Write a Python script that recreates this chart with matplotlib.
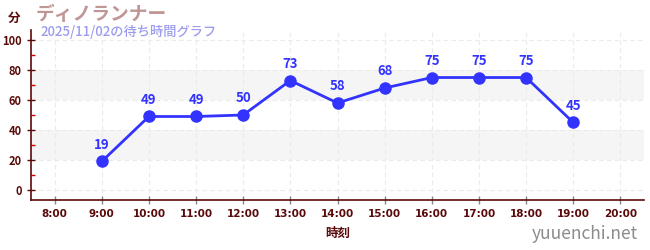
import matplotlib
matplotlib.use("Agg")
import matplotlib.pyplot as plt
from matplotlib.ticker import MultipleLocator

plt.rcParams['font.family'] = ['Noto Sans CJK JP', 'DejaVu Sans']

hours = [9, 10, 11, 12, 13, 14, 15, 16, 17, 18, 19]
waits = [19, 49, 49, 50, 73, 58, 68, 75, 75, 75, 45]
xticks = list(range(8, 21))
xticklabels = [f"{h}:00" for h in xticks]
yticks = [0, 20, 40, 60, 80, 100]

title = "ディノランナー"
subtitle = "2025/11/02の待ち時間グラフ"
ylabel = "分"
xlabel = "時刻"
watermark = "yuuenchi.net"

dark = "#5a0a0a"
line_c = "#3333ff"

fig = plt.figure(figsize=(6.5, 2.5), dpi=100)
ax = fig.add_axes([31/650, 50/250, (644-31)/650, (200-30)/250])
ax.set_xlim(7.5, 20.5)
ax.set_ylim(-6.7, 106.7)

for lo, hi in [(20, 40), (60, 80)]:
    ax.axhspan(lo, hi, color="#f5f5f5", zorder=0, lw=0)

ax.set_xticks(xticks)
ax.set_xticklabels(xticklabels)
ax.set_yticks(yticks)
ax.yaxis.set_minor_locator(MultipleLocator(10))
ax.grid(True, which="major", color="#ebebeb", linestyle=(0, (4, 3)), lw=0.8, zorder=0.5)

ax.plot(hours, waits, color=line_c, lw=2.0, marker="o", ms=8, zorder=3)
for h, w in zip(hours, waits):
    ax.annotate(str(w), (h, w), xytext=(0, 7), textcoords="offset points",
                ha="center", va="bottom", color=line_c, fontsize=9.5, fontweight="bold")

for s in ["top", "right"]:
    ax.spines[s].set_visible(False)
for s in ["left", "bottom"]:
    ax.spines[s].set_color(dark)
    ax.spines[s].set_linewidth(1.2)

ax.tick_params(axis="both", which="major", colors=dark, labelsize=8, direction="inout", length=6, width=1)
ax.tick_params(axis="x", which="major", colors="#888888", labelcolor=dark, labelsize=7.5)
ax.tick_params(axis="y", which="minor", colors="#cc0000", direction="in", length=3, width=1)
for lbl in ax.get_xticklabels() + ax.get_yticklabels():
    lbl.set_fontweight("bold")
for lbl in ax.get_xticklabels():
    lbl.set_fontfamily(["Liberation Sans Narrow", "DejaVu Sans"])

ax.set_xlabel(xlabel, color=dark, fontsize=9, fontweight="bold", labelpad=6)

fig.text(8/650, 1 - 18/250, ylabel, color=dark, fontsize=9, fontweight="bold", va="center", ha="left")
fig.text(36/650, 1 - 14/250, title, color="#c09595", fontsize=13.5, fontweight="bold", va="center", ha="left")
fig.text(40/650, 1 - 32/250, subtitle, color="#9c9cee", fontsize=9.5, fontweight="medium", va="center", ha="left")
fig.text(638/650, 1 - 234/250, watermark, color="#8c8c8c", fontsize=12.5, va="center", ha="right")

fig.savefig("out.png", dpi=100)
